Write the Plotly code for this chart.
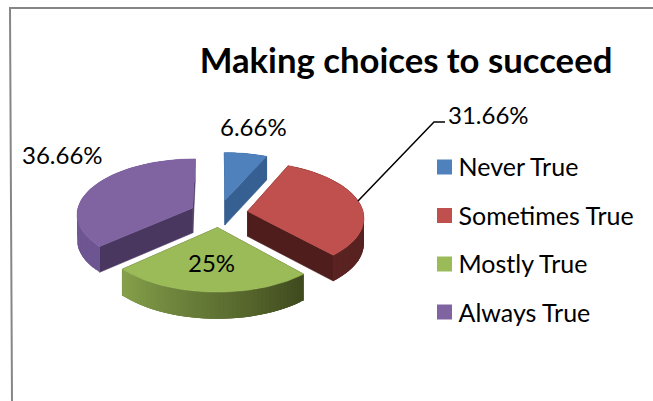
import math
import plotly.graph_objects as go

# Survey responses
categories = ["Never True", "Sometimes True", "Mostly True", "Always True"]
percentages = [6.66, 31.66, 25, 36.66]
top_colors = ["#4F81BD", "#C0504D", "#9BBB59", "#8064A2"]
edge_colors = ["#376092", "#4F1E1C", "#3F4A1E", "#4A3760"]
rim_start_colors = ["#376092", "#4F1E1C", "#3F4A1E", "#6C5590"]
rim_end_colors = ["#376092", "#5A2321", "#85A04B", "#7C5F9E"]
draw_order = [0, 3, 1, 2]
label_positions = [(253, 126), (488, 114), (211, 262), (62, 154)]
swatch_rows = [167, 215.5, 264, 312]

# Projection of the tilted, exploded disc onto the canvas
W, H = 653, 401
CX, CY = 219, 213.5
RX, RY = 116, 55
PERSPECTIVE = 0.10
EXPLODE = 0.25
DEPTH = 25


def hex_rgb(c):
    return tuple(int(c[i:i + 2], 16) for i in (1, 3, 5))


def mix(a, b, t):
    ra, rb = hex_rgb(a), hex_rgb(b)
    return "rgb({},{},{})".format(*[round(p + (q - p) * t) for p, q in zip(ra, rb)])


def project(px, py, lowered=False):
    scale = 1 / (1 + PERSPECTIVE * py)
    sx = CX + RX * px * scale
    sy = CY - RY * py * scale
    if lowered:
        sy += DEPTH * math.sqrt(scale)
    return sx, sy


def polygon(fig, pts, color, edge=0.6):
    fig.add_trace(go.Scatter(
        x=[p[0] for p in pts] + [pts[0][0]],
        y=[p[1] for p in pts] + [pts[0][1]],
        mode="lines", fill="toself", fillcolor=color,
        line=dict(color=color, width=edge),
        hoverinfo="skip", showlegend=False,
    ))


fig = go.Figure()

total = sum(percentages)
spans, running = [], 0.0
for v in percentages:
    spans.append((running / total * 2 * math.pi, (running + v) / total * 2 * math.pi))
    running += v

STEPS = 48
for i in draw_order:
    a0, a1 = spans[i]
    mid = (a0 + a1) / 2
    ox, oy = EXPLODE * math.sin(mid), EXPLODE * math.cos(mid)
    rim = [(ox + math.sin(a0 + (a1 - a0) * k / STEPS),
            oy + math.cos(a0 + (a1 - a0) * k / STEPS)) for k in range(STEPS + 1)]

    # radial side faces
    for end in (rim[0], rim[-1]):
        polygon(fig, [project(ox, oy), project(*end),
                      project(*end, True), project(ox, oy, True)], edge_colors[i])

    # outer wall, shaded along the arc; strips overlap so no seams show
    for k in range(STEPS):
        color = mix(rim_start_colors[i], rim_end_colors[i], k / (STEPS - 1))
        strip = rim[k:k + 4]
        polygon(fig, [project(*p) for p in strip] +
                [project(*p, True) for p in reversed(strip)], color, edge=0)

    # top surface
    polygon(fig, [project(ox, oy)] + [project(*p) for p in rim], top_colors[i])

# leader line for the second slice
fig.add_trace(go.Scatter(x=[358, 434, 445], y=[201, 122, 122], mode="lines",
                         line=dict(color="black", width=1.5),
                         hoverinfo="skip", showlegend=False))

# chart frame, open on the right and bottom
fig.add_trace(go.Scatter(x=[12, 10, 653], y=[401, 8, 8], mode="lines",
                         line=dict(color="#868686", width=2),
                         hoverinfo="skip", showlegend=False))

# legend entries; the colour keys sit closer to the text than the legend allows,
# so they are placed as markers next to each row
for i, name in enumerate(categories):
    fig.add_trace(go.Scatter(
        x=[None], y=[None], mode="markers", name=name, legendgroup=name,
        marker=dict(symbol="square", size=15, color="rgba(0,0,0,0)"),
    ))
fig.add_trace(go.Scatter(
    x=[444.5] * len(categories), y=swatch_rows, mode="markers",
    marker=dict(symbol="square", size=15, color=top_colors, line=dict(width=0)),
    hoverinfo="skip", showlegend=False,
))

annotations = [
    dict(x=x, y=y, text=f"{v}%", showarrow=False, xref="x", yref="y",
         font=dict(family="Lato", size=24, color="black"))
    for v, (x, y) in zip(percentages, label_positions)
]

fig.update_layout(
    width=W, height=H,
    margin=dict(l=0, r=0, t=0, b=0),
    paper_bgcolor="white", plot_bgcolor="white",
    xaxis=dict(range=[0, W], visible=False, fixedrange=True),
    yaxis=dict(range=[H, 0], visible=False, fixedrange=True),
    title=dict(text="<b>Making choices to succeed</b>",
               x=406 / W, y=1 - 61 / H, xanchor="center", yanchor="middle",
               font=dict(family="Lato", size=34.7, color="black")),
    legend=dict(x=428.5 / W, y=1 - 143.5 / H, xanchor="left", yanchor="top",
                tracegroupgap=13, indentation=-10, bgcolor="rgba(0,0,0,0)",
                font=dict(family="Lato", size=25, color="black")),
    annotations=annotations,
    showlegend=True,
)

fig.write_html("out.html", config=dict(displayModeBar=False))
